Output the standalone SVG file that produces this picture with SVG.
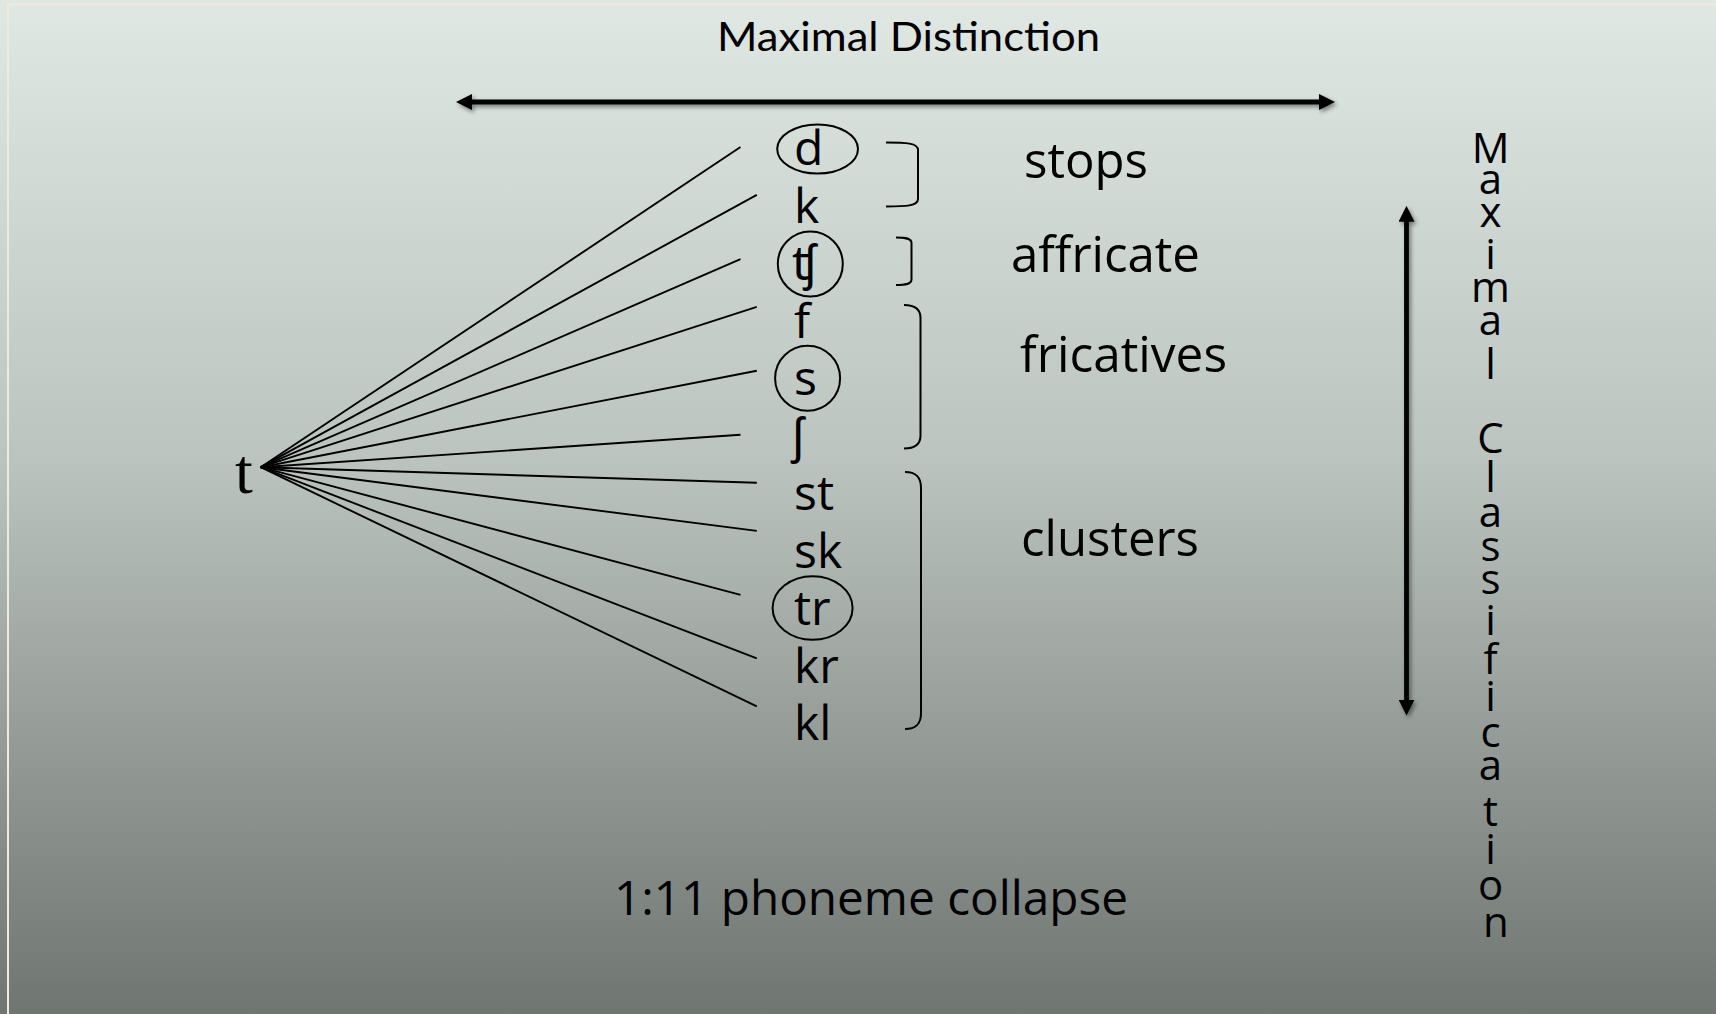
<svg xmlns="http://www.w3.org/2000/svg" width="1716" height="1014" viewBox="0 0 1716 1014">
  <defs>
    <linearGradient id="bg" x1="0" y1="0" x2="0" y2="1">
      <stop offset="0" stop-color="#dfe8e3"/>
      <stop offset="0.45" stop-color="#bcc4bf"/>
      <stop offset="1" stop-color="#6f7571"/>
    </linearGradient>
    <filter id="shadow" filterUnits="userSpaceOnUse" x="0" y="0" width="1716" height="1014">
      <feDropShadow dx="2" dy="2.5" stdDeviation="2" flood-color="#000" flood-opacity="0.45"/>
    </filter>
    <marker id="head" viewBox="0 0 16 16" refX="4" refY="8" markerWidth="16" markerHeight="16" markerUnits="userSpaceOnUse" orient="auto-start-reverse">
      <path d="M0,0 L16,8 L0,16 Z" fill="#000"/>
    </marker>
  </defs>
  <style>
    .ph { font-family: "Open Sans", "Noto Sans", "DejaVu Sans", sans-serif; font-size: 48px; fill: #000; }
    .cat { font-family: "Open Sans", "Noto Sans", sans-serif; font-size: 49px; fill: #000; }
    .ring { fill: none; stroke: #000; stroke-width: 2; }
    .brace { fill: none; stroke: #000; stroke-width: 2; }
    .spoke { stroke: #000; stroke-width: 1.9; }
    .axis { stroke: #000; stroke-width: 4.8; fill: none; marker-start: url(#head); marker-end: url(#head); }
    .vert { font-family: "Open Sans", "Noto Sans", sans-serif; font-size: 42px; fill: #000; text-anchor: middle; }
  </style>

  <!-- slide background and frame -->
  <rect x="0" y="0" width="1716" height="1014" fill="url(#bg)"/>
  <path d="M8,1014 L8,4.5 L1716,4.5" fill="none" stroke="#efeadc" stroke-width="2"/>

  <!-- title and horizontal axis -->
  <text x="717" y="51" font-family="Lato, 'Liberation Sans', sans-serif" font-size="41" textLength="383" lengthAdjust="spacingAndGlyphs" fill="#000">Maximal Distinction</text>
  <g id="axis-distinction" filter="url(#shadow)">
    <line class="axis" x1="468" y1="102" x2="1323" y2="102"/>
  </g>

  <!-- vertical axis and its stacked label -->
  <g id="axis-classification" filter="url(#shadow)">
    <line class="axis" x1="1406.5" y1="217.7" x2="1406.5" y2="703.6"/>
  </g>
  <text class="vert">
    <tspan x="1496" y="162.5">M</tspan>
    <tspan x="1496" y="194">a</tspan>
    <tspan x="1496" y="227">x</tspan>
    <tspan x="1496" y="269">i</tspan>
    <tspan x="1496" y="302">m</tspan>
    <tspan x="1496" y="334.5">a</tspan>
    <tspan x="1496" y="379">l</tspan>
    <tspan x="1496" y="453">C</tspan>
    <tspan x="1496" y="492">l</tspan>
    <tspan x="1496" y="527">a</tspan>
    <tspan x="1496" y="561">s</tspan>
    <tspan x="1496" y="594">s</tspan>
    <tspan x="1496" y="634.5">i</tspan>
    <tspan x="1496" y="674">f</tspan>
    <tspan x="1496" y="711">i</tspan>
    <tspan x="1496" y="747">c</tspan>
    <tspan x="1496" y="780">a</tspan>
    <tspan x="1496" y="826">t</tspan>
    <tspan x="1496" y="864">i</tspan>
    <tspan x="1496" y="900">o</tspan>
    <tspan x="1496" y="937">n</tspan>
  </text>

  <!-- fan of connectors from the source phoneme -->
  <g id="connectors">
    <line class="spoke" x1="260.7" y1="467.2" x2="740.5" y2="147"/>
    <line class="spoke" x1="260.7" y1="467.2" x2="756.8" y2="194.8"/>
    <line class="spoke" x1="260.7" y1="467.2" x2="740.5" y2="259.1"/>
    <line class="spoke" x1="260.7" y1="467.2" x2="756.8" y2="306.8"/>
    <line class="spoke" x1="260.7" y1="467.2" x2="756.8" y2="370.8"/>
    <line class="spoke" x1="260.7" y1="467.2" x2="740.5" y2="434.8"/>
    <line class="spoke" x1="260.7" y1="467.2" x2="756.8" y2="482.8"/>
    <line class="spoke" x1="260.7" y1="467.2" x2="756.8" y2="530.9"/>
    <line class="spoke" x1="260.7" y1="467.2" x2="740.5" y2="594.8"/>
    <line class="spoke" x1="260.7" y1="467.2" x2="756.8" y2="658.4"/>
    <line class="spoke" x1="260.7" y1="467.2" x2="756.8" y2="706.4"/>
  </g>

  <!-- source phoneme -->
  <g id="node-t">
    <text x="235" y="492.5" font-family="'Liberation Serif', 'Times New Roman', serif" font-size="64" fill="#000">t</text>
  </g>

  <!-- target phonemes -->
  <g id="node-d">
    <ellipse class="ring" cx="817.6" cy="149" rx="40.4" ry="24.6"/>
    <text class="ph" x="794" y="165">d</text>
  </g>
  <g id="node-k">
    <text class="ph" x="794" y="222.5">k</text>
  </g>
  <g id="node-tsh">
    <circle class="ring" cx="810.3" cy="264" r="32.5"/>
    <text class="ph" x="792" y="280" font-family="'Noto Sans', 'DejaVu Sans', sans-serif">ʧ</text>
  </g>
  <g id="node-f">
    <text class="ph" x="794" y="337.5">f</text>
  </g>
  <g id="node-s">
    <circle class="ring" cx="807.6" cy="378.2" r="32.5"/>
    <text class="ph" x="794" y="395">s</text>
  </g>
  <g id="node-sh">
    <text class="ph" x="792" y="452.5">ʃ</text>
  </g>
  <g id="node-st">
    <text class="ph" x="794" y="510">st</text>
  </g>
  <g id="node-sk">
    <text class="ph" x="794" y="567.5">sk</text>
  </g>
  <g id="node-tr">
    <ellipse class="ring" cx="812.6" cy="608" rx="40" ry="31.8"/>
    <text class="ph" x="794" y="625">tr</text>
  </g>
  <g id="node-kr">
    <text class="ph" x="794" y="682.5">kr</text>
  </g>
  <g id="node-kl">
    <text class="ph" x="794" y="740">kl</text>
  </g>

  <!-- class brackets with labels -->
  <g id="class-stops">
    <path class="brace" d="M886,142.5 C906,142.5 918,143 918,150 L918,199 C918,206 906,206.5 886,206.5"/>
    <text class="cat" x="1024" y="177.5" textLength="124" lengthAdjust="spacingAndGlyphs">stops</text>
  </g>
  <g id="class-affricate">
    <path class="brace" d="M896,237.5 C906,237.5 911.5,238.5 911.5,243 L911.5,279.5 C911.5,284 906,285 896,285"/>
    <text class="cat" x="1011" y="272" textLength="189" lengthAdjust="spacingAndGlyphs">affricate</text>
  </g>
  <g id="class-fricatives">
    <path class="brace" d="M904,305 C914,305 920.5,308 920.5,318 L920.5,435.5 C920.5,445.5 914,448.5 904,448.5"/>
    <text class="cat" x="1020" y="371.5" textLength="207" lengthAdjust="spacingAndGlyphs">fricatives</text>
  </g>
  <g id="class-clusters">
    <path class="brace" d="M905,472 C915,472 921,476 921,488 L921,713 C921,725 915,729 905,729"/>
    <text class="cat" x="1021" y="556" textLength="178" lengthAdjust="spacingAndGlyphs">clusters</text>
  </g>

  <!-- caption -->
  <text x="614" y="915" font-family="'Open Sans', 'Noto Sans', sans-serif" font-size="48" textLength="514" lengthAdjust="spacingAndGlyphs" fill="#000">1:11 phoneme collapse</text>
</svg>
